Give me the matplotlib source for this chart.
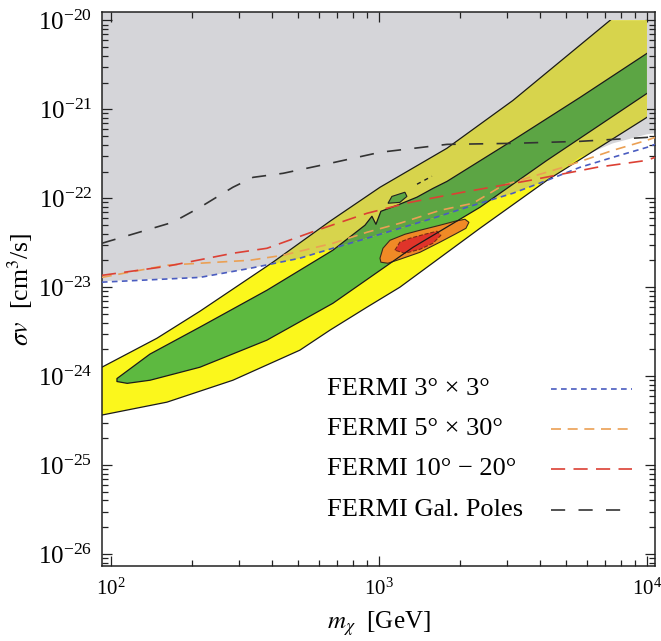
import numpy as np
import matplotlib
matplotlib.use("Agg")
import matplotlib.pyplot as plt
from matplotlib.patches import Rectangle
from matplotlib.lines import Line2D
from matplotlib.ticker import LogLocator, NullFormatter

plt.rcParams['font.family'] = 'serif'
plt.rcParams['font.serif'] = ['Liberation Serif', 'DejaVu Serif']
plt.rcParams['mathtext.fontset'] = 'stix'

# outer (yellow) band
m_u2 = [92.5, 148.5, 214.8, 402, 656.5, 1009, 1793, 3162, 7277, 10000]
sv_u2 = [1.26e-24, 2.67e-24, 5.37e-24, 1.91e-23, 5.52e-23, 1.33e-22, 3.65e-22, 1.26e-21, 1.0e-20, 2.17e-20]
m_l2 = [92.5, 161.8, 285.2, 507, 656.5, 902, 1197, 2382, 4236, 10000]
sv_l2 = [3.65e-25, 5.1e-25, 9.0e-25, 1.96e-24, 3.29e-24, 5.96e-24, 1.0e-23, 4.6e-23, 1.59e-22, 8.13e-22]

# inner (green) band
m_u1 = [105.3, 139.8, 214.8, 382, 673.5, 887, 941.7, 974.6, 1017, 1167, 1387, 1589, 1795,
        3162, 5623, 10000]
sv_u1 = [9.4e-25, 1.77e-24, 3.56e-24, 9.25e-24, 2.61e-23, 4.98e-23, 6.28e-23, 5.1e-23, 7.14e-23,
         8.33e-23, 1.03e-22, 1.29e-22, 1.55e-22, 4.49e-22, 1.36e-21, 4.26e-21]
m_l1 = [105.3, 115, 140, 214.8, 382, 673.5, 1035, 1340, 2382, 4236, 10000]
sv_l1 = [8.7e-25, 8.3e-25, 9.0e-25, 1.26e-24, 2.54e-24, 6.6e-24, 1.63e-23, 2.81e-23, 7.92e-23,
         2.67e-22, 1.51e-21]

# small green island and contour fragment
m_isl = [1081, 1118, 1250, 1272, 1197]
sv_isl = [8.79e-23, 1.05e-22, 1.17e-22, 1.05e-22, 9.0e-23]
m_frag = [1387, 1577]
sv_frag = [1.44e-22, 1.77e-22]

# best fit regions
m_or = [1009, 1035, 1099, 1250, 1422, 1689, 1921, 2094, 2167, 2112, 1921, 1689, 1422, 1197,
        1080, 1017]
sv_or = [2.12e-23, 2.74e-23, 3.37e-23, 3.94e-23, 4.37e-23, 4.98e-23, 5.52e-23, 5.81e-23,
         5.37e-23, 4.6e-23, 3.94e-23, 3.21e-23, 2.47e-23, 2.06e-23, 1.86e-23, 1.91e-23]
m_red = [1147, 1197, 1305, 1484, 1646, 1703, 1590, 1422, 1250]
sv_red = [2.61e-23, 3.21e-23, 3.55e-23, 3.94e-23, 4.26e-23, 3.84e-23, 3.12e-23, 2.67e-23, 2.41e-23]

# excluded (gray) region lower edge
m_gray = [92.5, 215, 330, 507, 673, 902, 1197, 1589, 2128, 3162, 4236, 5623, 7464, 10000, 10720]
sv_gray = [1.17e-23, 1.29e-23, 1.63e-23, 2.12e-23, 2.74e-23, 3.55e-23, 4.6e-23, 5.96e-23,
           7.92e-23, 1.14e-22, 1.59e-22, 2.89e-22, 4.15e-22, 5.24e-22, 5.37e-22]

# FERMI limits
m_blue = [92.5, 215, 330, 507, 673, 902, 1197, 1589, 2128, 3162, 4236, 5623, 7464, 10000, 10720]
sv_blue = [1.14e-23, 1.29e-23, 1.63e-23, 2.12e-23, 2.74e-23, 3.55e-23, 4.6e-23, 5.96e-23,
           7.92e-23, 1.14e-22, 1.59e-22, 2.23e-22, 2.89e-22, 3.74e-22, 4.04e-22]
m_orange = [92.5, 162, 330, 439, 673, 902, 1197, 1690, 2244, 2904, 4864, 7464, 10000, 10720]
sv_orange = [1.29e-23, 1.77e-23, 2.01e-23, 2.29e-23, 3.12e-23, 4.15e-23, 5.24e-23, 7.32e-23,
             8.8e-23, 1.40e-22, 2.23e-22, 3.46e-22, 4.49e-22, 4.84e-22]
m_redl = [92.5, 162, 285, 382, 587, 902, 1306, 2056, 3656, 6501, 10000, 10720]
sv_redl = [1.36e-23, 1.72e-23, 2.41e-23, 2.74e-23, 4.37e-23, 6.78e-23, 9.0e-23, 1.17e-22,
           1.59e-22, 2.23e-22, 2.67e-22, 2.89e-22]
m_black = [92.5, 170, 215, 285, 339, 439, 656, 1009, 1795, 3162, 5623, 10000, 10720]
sv_black = [3.12e-23, 5.37e-23, 7.92e-23, 1.33e-22, 1.72e-22, 1.91e-22, 2.47e-22, 3.29e-22,
            4.04e-22, 4.15e-22, 4.37e-22, 4.84e-22, 4.97e-22]

labels = ['FERMI 3° × 3°', 'FERMI 5° × 30°', 'FERMI 10° − 20°', 'FERMI Gal. Poles']
colors = ['#4a5cc0', '#eba054', '#dc4034', '#333333']
dashes = [(3.4, 2.6), (6.0, 4.0), (8.5, 5.0), (8.5, 8.0)]
curves = [(m_blue, sv_blue), (m_orange, sv_orange), (m_redl, sv_redl), (m_black, sv_black)]

xticks = [1e2, 1e3, 1e4]
yticks = [1e-26, 1e-25, 1e-24, 1e-23, 1e-22, 1e-21, 1e-20]

xlo, xhi = 92.6, 10720
ylo, yhi = 10**-26.135, 10**-19.905

fig = plt.figure(figsize=(6.61, 6.41), dpi=100)
ax = fig.add_axes([102/661, 1-566/641, 553/661, 554/641])
ax.set_xscale('log')
ax.set_yscale('log')

# region where the model was computed
clip = Rectangle((xlo, ylo), 1e4 - xlo, 1e-20 - ylo, transform=ax.transData)

gray = ax.fill(m_gray + [xhi, xlo], sv_gray + [yhi, yhi], color='#d5d5d9', lw=0, zorder=1)[0]

yel_x = m_u2 + m_l2[::-1]
yel_y = list(np.minimum(sv_u2, 1e-20)) + sv_l2[::-1]
grn_x = m_u1 + m_l1[::-1]
grn_y = sv_u1 + sv_l1[::-1]

for col_y, col_g, z, on_gray in [('#fbf71c', '#5db940', 2, False), ('#d7d44c', '#5ca544', 3, True)]:
    p1 = ax.fill(yel_x, yel_y, color=col_y, lw=0, zorder=z)[0]
    p2 = ax.fill(grn_x, grn_y, color=col_g, lw=0, zorder=z + 0.5)[0]
    for p in (p1, p2):
        p.set_clip_path(gray if on_gray else clip)

ax.fill(m_isl, sv_isl, facecolor='#5ca544', edgecolor='#222222', lw=0.8, zorder=5)
ax.plot(m_frag, sv_frag, color='#222222', lw=1.0, dashes=(3, 3), zorder=5)
ax.fill(m_or, sv_or, facecolor='#f08a26', edgecolor='#3a2a1a', lw=0.8, zorder=5)
ax.fill(m_red, sv_red, facecolor='#e0342a', edgecolor='#7a2a14', lw=0.8, ls='--', zorder=5)

for xs, ys in [(m_u2, sv_u2), (m_l2, sv_l2), (m_l1[::-1] + m_u1, sv_l1[::-1] + sv_u1)]:
    ln, = ax.plot(xs, ys, color='#1a1a1a', lw=0.9, zorder=6)
    ln.set_clip_path(clip)

for (xs, ys), c, d in zip(curves, colors, dashes):
    ax.plot(xs, ys, color=c, lw=1.2, dashes=d, zorder=7)

# legend drawn by hand: text on the left, line sample on the right
rows_y = [0.3195, 0.247, 0.175, 0.101]
for lab, c, d, yy in zip(labels, colors, dashes, rows_y):
    ax.text(0.407, yy, lab, transform=ax.transAxes, fontsize=19, va='center', ha='left', zorder=8)
    ax.add_line(Line2D([0.812, 0.958], [yy, yy], transform=ax.transAxes, color=c, lw=1.2,
                       dashes=d, zorder=8))

ax.set_xticks(xticks)
ax.set_yticks(yticks)
ax.xaxis.set_minor_locator(LogLocator(base=10, subs=np.arange(2, 10), numticks=20))
ax.yaxis.set_minor_locator(LogLocator(base=10, subs=np.arange(2, 10), numticks=40))
ax.xaxis.set_minor_formatter(NullFormatter())
ax.yaxis.set_minor_formatter(NullFormatter())
ax.set_xlim(xlo, xhi)
ax.set_ylim(ylo, yhi)
ax.tick_params(which='both', direction='in', top=True, right=True, width=0.9, color='#222222')
ax.tick_params(which='major', length=7)
ax.tick_params(which='minor', length=4.5)
ax.tick_params(axis='x', pad=9, labelsize=15)
ax.tick_params(axis='y', pad=7, labelsize=18)
for s in ax.spines.values():
    s.set_linewidth(1.1)
    s.set_color('#222222')

ax.set_xlabel(r'$m_\chi$  [GeV]', fontsize=18, labelpad=7)
ax.set_ylabel(r'$\sigma v$  [cm$^3$/s]', fontsize=18.5, labelpad=2)

fig.savefig('out.png', dpi=100, facecolor='white')
